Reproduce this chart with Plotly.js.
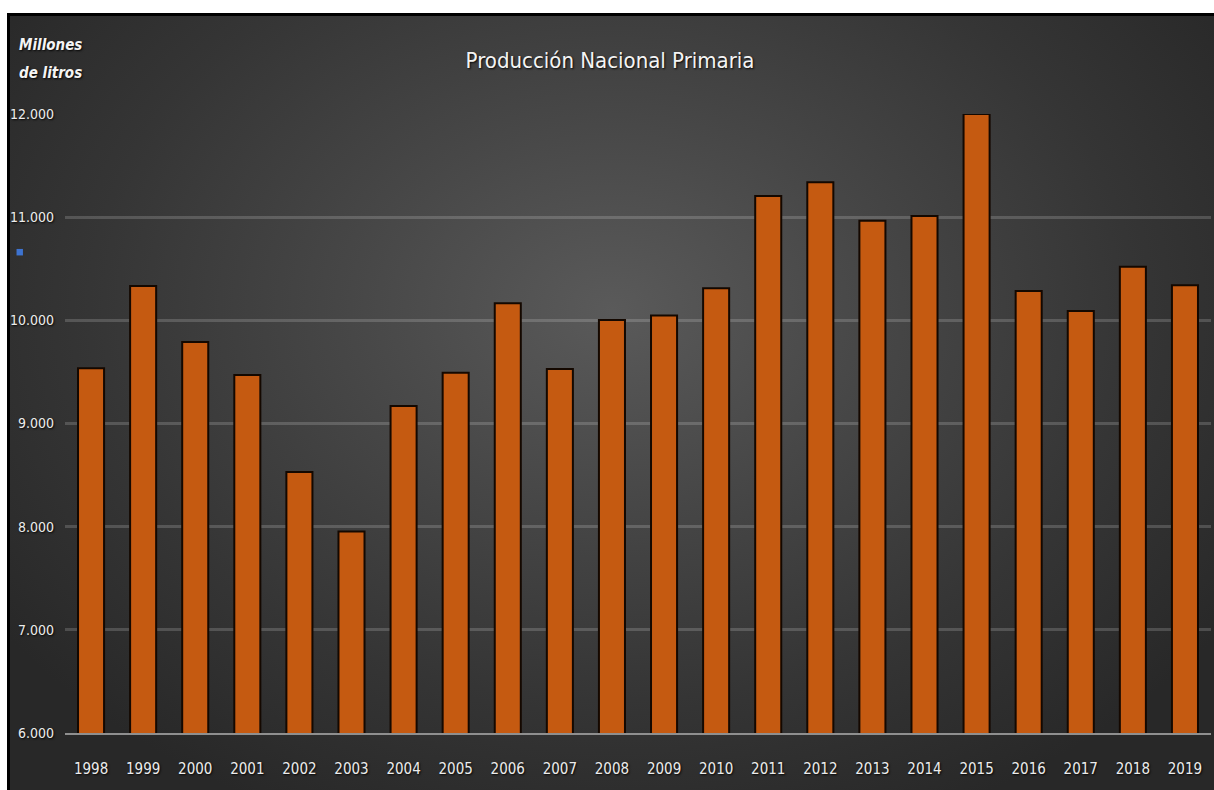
<!DOCTYPE html>
<html>
<head>
<meta charset="utf-8">
<script src="https://cdn.plot.ly/plotly-3.0.1.min.js"></script>
<style>
  html, body { margin: 0; padding: 0; background: #ffffff; overflow: hidden; }
  #frame {
    position: absolute; left: 7px; top: 13px; right: 0; bottom: 0;
    border-left: 3px solid #000; border-top: 3px solid #000;
    background: radial-gradient(ellipse 62% 72% at 50% 38%, #5a5a5a 0%, #474747 35%, #353535 70%, #282828 100%);
  }
  #chart { position: absolute; left: 0; top: 0; width: 1214px; height: 790px; }
</style>
</head>
<body>
<div id="frame"></div>
<div id="chart"></div>
<script>
// Producción nacional primaria, millones de litros por año
const years = ['1998','1999','2000','2001','2002','2003','2004','2005','2006','2007','2008',
               '2009','2010','2011','2012','2013','2014','2015','2016','2017','2018','2019'];
const produccion = [9535, 10333, 9790, 9470, 8530, 7953, 9169, 9492, 10165, 9528, 10003,
                    10048, 10310, 11206, 11338, 10966, 11012, 12000, 10284, 10090, 10520, 10339];
const yTicks = [6000, 7000, 8000, 9000, 10000, 11000, 12000];

const narrow = "'Liberation Sans Narrow', 'DejaVu Sans Condensed', sans-serif";
const labelShadow = '1px 1px 2px rgba(0,0,0,0.9)';

const trace = {
  type: 'bar',
  x: years,
  y: produccion,
  marker: { color: '#c55a11', line: { color: '#140800', width: 2 } },
  cliponaxis: false,
  hoverinfo: 'x+y'
};

const layout = {
  width: 1214,
  height: 790,
  margin: { l: 65, r: 3, t: 114, b: 57 },
  paper_bgcolor: 'rgba(0,0,0,0)',
  plot_bgcolor: 'rgba(0,0,0,0)',
  separators: ',.',
  bargap: 0.5,
  showlegend: false,
  title: {
    text: 'Producción Nacional Primaria',
    x: 0.5025, xref: 'container', xanchor: 'center',
    y: 0.924, yref: 'container', yanchor: 'middle',
    font: { family: narrow, size: 22, color: '#f4f4f4', shadow: labelShadow }
  },
  xaxis: {
    type: 'category',
    showgrid: false,
    showline: true, linecolor: '#8f8f8f', linewidth: 2,
    ticks: '',
    ticklabelstandoff: 21,
    tickfont: { family: narrow, size: 15, color: '#ececec', shadow: labelShadow },
    fixedrange: true
  },
  yaxis: {
    range: [6000, 12000],
    tickvals: yTicks,
    tickformat: ',d',
    showgrid: true, gridcolor: 'rgba(255,255,255,0.17)', gridwidth: 3,
    zeroline: false,
    showline: false,
    ticks: '',
    ticklabelstandoff: 10,
    tickfont: { family: narrow, size: 14, color: '#ececec', shadow: labelShadow },
    fixedrange: true
  },
  annotations: [
    {
      text: '<b><i>Millones</i></b>', xref: 'paper', yref: 'paper',
      x: -0.0415, y: 1.1115, xanchor: 'left', yanchor: 'middle', showarrow: false,
      font: { family: narrow, size: 15, color: '#f4f4f4', shadow: labelShadow }
    },
    {
      text: '<b><i>de litros</i></b>', xref: 'paper', yref: 'paper',
      x: -0.0415, y: 1.066, xanchor: 'left', yanchor: 'middle', showarrow: false,
      font: { family: narrow, size: 15, color: '#f4f4f4', shadow: labelShadow }
    }
  ],
  shapes: [
    {
      type: 'rect', xref: 'paper', yref: 'paper',
      x0: -0.0423, x1: -0.0367, y0: 0.7715, y1: 0.7820,
      fillcolor: '#3d73d0', line: { width: 0 }
    }
  ]
};

Plotly.newPlot('chart', [trace], layout, { displayModeBar: false, staticPlot: true });
</script>
</body>
</html>
